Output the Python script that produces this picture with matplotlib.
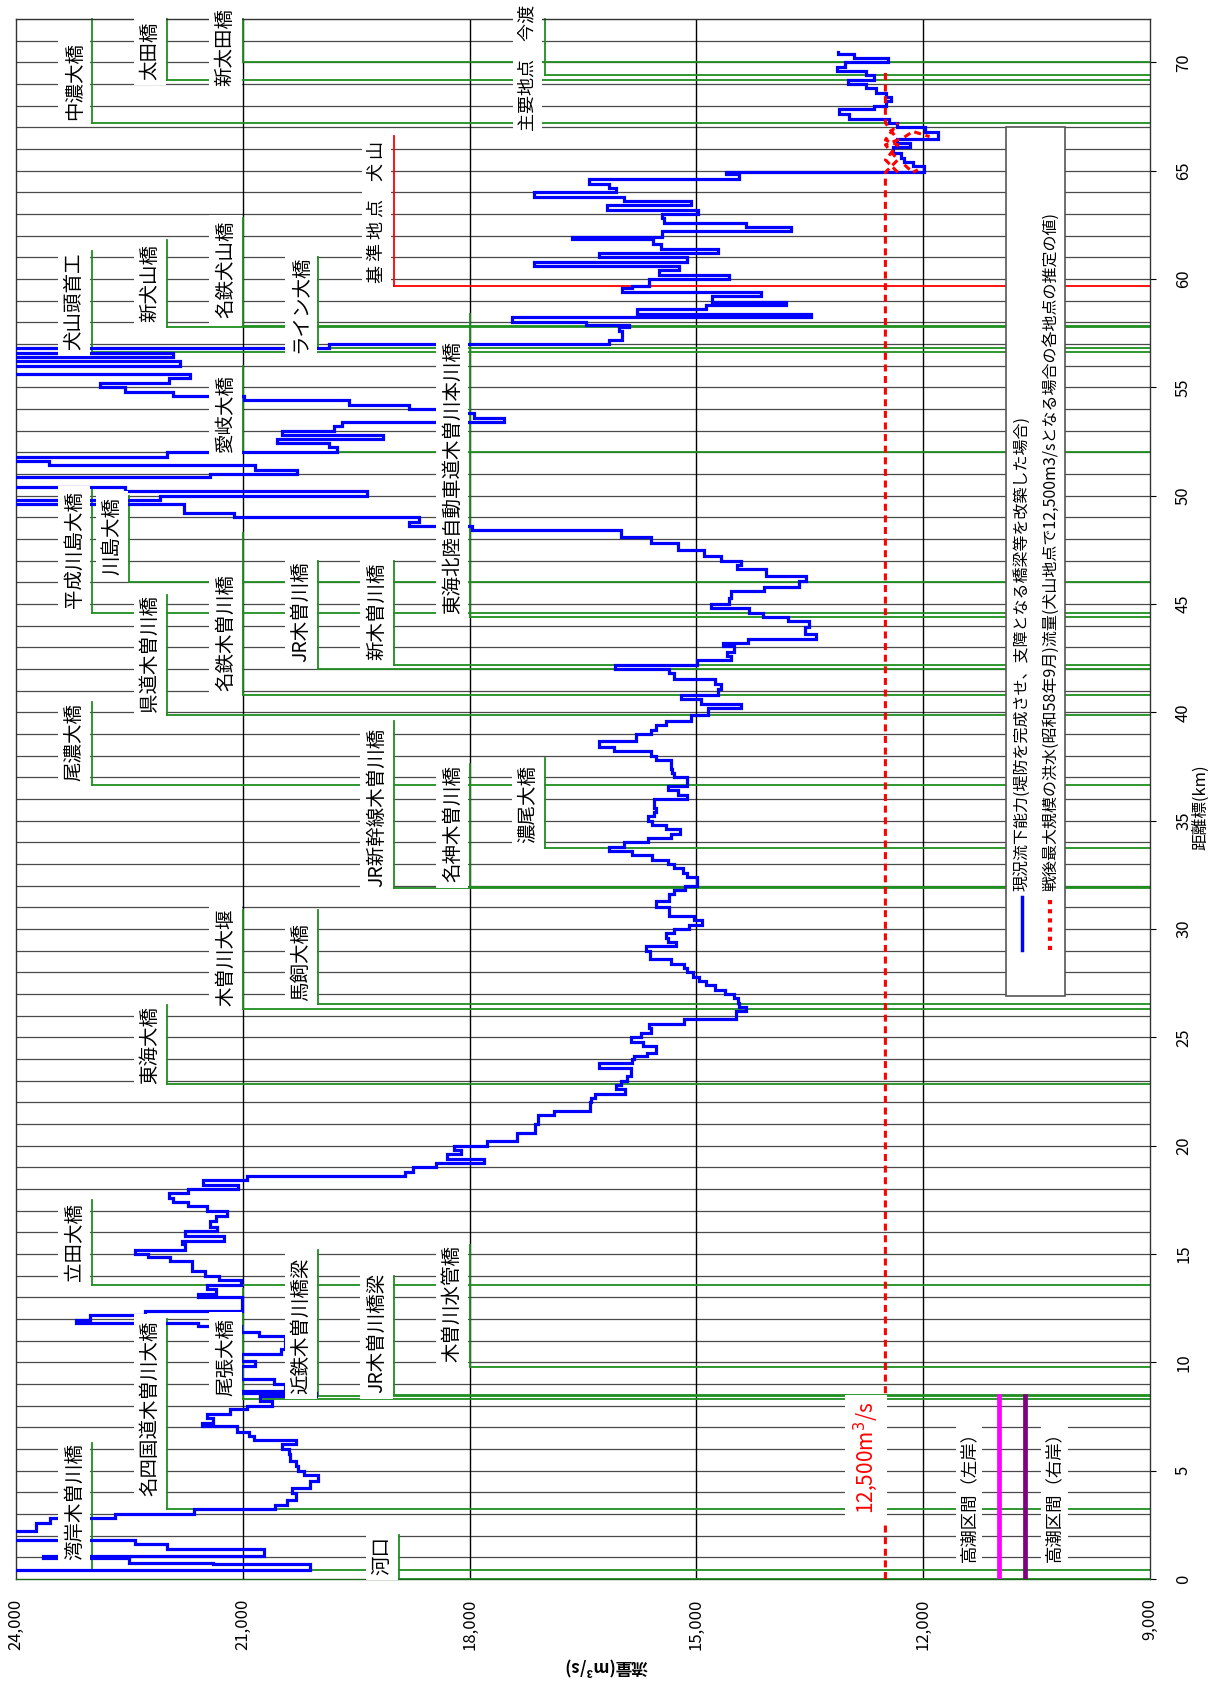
import matplotlib
matplotlib.use('Agg')
import matplotlib.pyplot as plt
from matplotlib.patches import Rectangle

plt.rcParams['font.family'] = ['Noto Sans CJK JP', 'DejaVu Sans']

OFF = 25500  # beyond the 24,000 edge of the chart

# 現況流下能力: section start (km) and capacity (m3/s)
blue_km = [
    0.0, 0.4, 0.68, 0.75, 0.95, 1.05, 1.37, 1.6, 1.8, 2.22,
    2.6, 2.8, 2.99, 3.22, 3.42, 3.63, 3.96, 4.22, 4.53, 4.79,
    4.99, 5.2, 5.45, 5.76, 5.99, 6.22, 6.41, 6.6, 6.8, 7.04,
    7.2, 7.43, 7.6, 7.84, 7.99, 8.2, 8.44, 8.6, 8.69, 9.0,
    9.22, 9.85, 10.07, 10.38, 10.61, 11.23, 11.42, 11.67, 11.8, 11.95,
    12.2, 12.38, 13.0, 13.16, 13.4, 13.58, 13.8, 14.0, 14.23, 14.69,
    14.85, 15.0, 15.19, 15.46, 15.62, 15.85, 16.07, 16.23, 16.53, 16.77,
    17.0, 17.23, 17.38, 17.6, 17.8, 18.0, 18.2, 18.4, 18.6, 18.8,
    19.0, 19.2, 19.4, 19.6, 19.8, 20.0, 20.2, 20.6, 21.0, 21.4,
    21.6, 22.0, 22.2, 22.4, 22.6, 22.8, 23.0, 23.2, 23.6, 23.8,
    24.0, 24.15, 24.3, 24.6, 24.8, 25.0, 25.2, 25.45, 25.6, 25.85,
    26.2, 26.4, 26.6, 26.8, 27.0, 27.2, 27.4, 27.6, 27.8, 28.0,
    28.2, 28.4, 28.6, 29.0, 29.2, 29.4, 29.6, 29.8, 30.0, 30.2,
    30.4, 30.6, 31.0, 31.3, 31.6, 31.8, 32.0, 32.4, 32.6, 32.8,
    33.0, 33.2, 33.4, 33.6, 33.8, 34.0, 34.2, 34.4, 34.6, 34.8,
    35.0, 35.2, 35.4, 35.6, 36.0, 36.2, 36.4, 36.6, 37.0, 37.2,
    37.4, 37.8, 38.0, 38.2, 38.4, 38.7, 39.0, 39.2, 39.4, 39.6,
    39.9, 40.2, 40.4, 40.6, 40.8, 41.1, 41.3, 41.55, 41.8, 42.0,
    42.2, 42.4, 42.6, 42.8, 43.05, 43.2, 43.4, 43.6, 43.95, 44.2,
    44.4, 44.6, 44.8, 45.0, 45.3, 45.6, 45.8, 46.05, 46.3, 46.6,
    46.8, 47.0, 47.2, 47.5, 47.8, 48.1, 48.4, 48.6, 48.8, 49.0,
    49.2, 49.6, 49.8, 50.0, 50.2, 50.4, 50.87, 51.0, 51.2, 51.4,
    51.6, 51.8, 52.0, 52.25, 52.45, 52.6, 52.8, 53.0, 53.2, 53.4,
    53.6, 53.8, 54.0, 54.2, 54.4, 54.6, 54.8, 55.0, 55.2, 55.45,
    55.6, 56.0, 56.2, 56.4, 56.6, 56.8, 57.0, 57.2, 57.6, 57.8,
    57.9, 58.0, 58.25, 58.4, 58.6, 58.8, 58.95, 59.2, 59.4, 59.6,
    59.7, 60.0, 60.2, 60.4, 60.6, 60.8, 61.0, 61.2, 61.4, 61.6,
    61.85, 61.95, 62.2, 62.4, 62.6, 62.8, 63.0, 63.2, 63.4, 63.6,
    63.8, 64.0, 64.2, 64.4, 64.6, 64.85, 64.95, 65.2, 65.4, 65.6,
    65.8, 66.1, 66.3, 66.45, 66.8, 67.0, 67.2, 67.4, 67.6, 67.85,
    68.0, 68.2, 68.4, 68.6, 68.8, 69.0, 69.2, 69.4, 69.6, 69.8,
    70.0, 70.2, 70.4,
]
blue_end = 70.5
blue_flow = [
    OFF, 20110, 21390, 22510, 23640, 20720, 22000, 22420, OFF, 23730,
    23550, 22690, 21650, 20570, 20420, 20300, 20350, 20110, 20000, 20190,
    20270, 20290, 20370, 20390, 20480, 20300, 20850, 20920, 21080, 21540,
    21390, 21480, 21170, 20950, 20610, 20770, 20030, 21030, 20440, 20590,
    21030, 20840, 21030, 20500, 20440, 20790, 21030, 21590, 23200, 23020,
    22290, 21010, 21590, 21360, 21470, 21030, 21320, 21500, 21670, 21960,
    22250, 22420, 21760, 21810, 21250, 21760, 21340, 21430, 21360, 21210,
    21480, 21720, 21920, 21980, 21720, 21060, 21520, 20940, 18850, 18750,
    18450, 17810, 18300, 18110, 18210, 17770, 17370, 17130, 17100, 16880,
    16410, 16390, 16340, 15950, 16070, 16000, 15920, 15860, 16290, 15850,
    15820, 15650, 15530, 15700, 15870, 15730, 15600, 15630, 15160, 14480,
    14350, 14430, 14450, 14500, 14620, 14750, 14870, 14970, 15040, 15120,
    15160, 15340, 15620, 15670, 15270, 15380, 15400, 15290, 15100, 14920,
    15030, 15360, 15540, 15360, 15290, 15150, 14990, 15130, 15180, 15290,
    15380, 15590, 15850, 16150, 15960, 15640, 15340, 15220, 15400, 15590,
    15640, 15560, 15540, 15560, 15120, 15250, 15370, 15120, 15290, 15320,
    15340, 15540, 15600, 16090, 16290, 15800, 15600, 15540, 15400, 15070,
    14850, 14410, 14940, 15210, 14720, 14680, 14750, 15290, 15360, 16080,
    14990, 14540, 14590, 14500, 14650, 14320, 13420, 13570, 13510, 13790,
    14120, 14300, 14810, 14570, 14540, 14100, 13640, 13550, 14080, 14460,
    14410, 14680, 14900, 15250, 15600, 16000, 17970, 18800, 18670, 21120,
    21780, OFF, 22090, 19360, 22560, OFF, 21430, 20280, 20840, 23570,
    OFF, 22000, 19750, 19860, 20550, 19140, 20480, 19800, 19690, 17550,
    17940, 18300, 18800, 19600, 20990, 21920, 22560, 22890, 21980, 21700,
    OFF, 21830, OFF, 21920, OFF, 19860, 16150, 15980, 16020, 15890,
    16460, 17440, 13490, 15780, 14870, 13820, 14790, 14150, 15980, 15850,
    15630, 14570, 15490, 15230, 17150, 15120, 16290, 14720, 15470, 15580,
    16640, 15450, 13750, 14340, 15430, 15450, 14980, 16180, 15070, 15960,
    17150, 16070, 16150, 16420, 14430, 14610, 11990, 12140, 12250, 12290,
    12400, 12180, 12340, 11810, 11980, 12340, 12450, 12980, 13110, 12650,
    12490, 12420, 12490, 12620, 12760, 13000, 12650, 12760, 13140, 13040,
    12460, 12920, 13130,
]
assert len(blue_km) == len(blue_flow)

# 戦後最大規模の洪水流量 (main dashed line and the crossing pieces near 犬山)
red_km = [0.0, 64.92, 65.5, 66.19, 66.42, 67.2, 69.7]
red_flow = [12500, 12500, 12336, 12500, 12336, 12500, 12500]
red2_km = [64.92, 65.5, 66.19, 66.42, 67.2]
red2_flow = [12336, 12500, 12336, 12500, 12336]
red3_km = [66.55, 66.81, 66.57]
red3_flow = [12248, 12137, 11916]
red4_km = [65.27, 64.92, 65.04]
red4_flow = [12248, 12137, 12071]

# bridges / landmarks
bridge_names = ['河口', '湾岸木曽川橋', '名四国道木曽川大橋', '尾張大橋', '近鉄木曽川橋梁',
                'JR木曽川橋梁', '木曽川水管橋', '立田大橋', '東海大橋', '木曽川大堰',
                '馬飼大橋', 'JR新幹線木曽川橋', '名神木曽川橋', '濃尾大橋', '尾濃大橋',
                '県道木曽川橋', '名鉄木曽川橋', 'JR木曽川橋', '新木曽川橋', '平成川島大橋',
                '東海北陸自動車道木曽川本川橋', '川島大橋', '愛岐大橋', '犬山頭首工', 'ライン大橋',
                '新犬山橋', '名鉄犬山橋', '中濃大橋', '太田橋', '主要地点　今渡', '新太田橋']
bridge_km = [0.0, 0.4, 3.25, 8.3, 8.45, 8.5, 9.8, 13.58, 22.85, 26.33,
             26.56, 31.9, 31.95, 33.75, 36.63, 39.86, 40.8, 41.98, 42.17, 44.6,
             44.4, 46.0, 52.0, 56.65, 56.8, 57.8, 57.85, 67.2, 69.2, 69.4, 70.0]
# layout of the leader lines and labels
bracket_flow = [18930, 23000, 22000, 21000, 20000, 19000, 18000, 23000, 22000, 21000,
                20000, 19000, 18000, 17000, 23000, 22000, 21000, 20000, 19000, 23000,
                18000, 22500, 21000, 23000, 20000, 22000, 21000, 23000, 22000, 17000, 21000]
bracket_top = [2.03, 6.3, 12.0, 13.4, 15.2, 14.0, 15.4, 17.5, 26.5, 30.9,
               30.9, 39.6, 37.6, 37.9, 40.5, 45.4, 48.3, 47.0, 47.0, 50.4,
               58.4, 50.0, 56.0, 61.3, 61.0, 61.8, 62.8, 72, 72, 72, 72]
label_km = [1.1, 3.6, 7.9, 10.25, 11.7, 11.35, 12.7, 15.55, 24.65, 28.7,
            28.5, 35.6, 34.85, 35.75, 38.65, 42.7, 43.7, 44.65, 44.65, 47.5,
            50.85, 48.15, 53.8, 58.95, 58.85, 59.8, 60.45, 69.15, 70.55, 69.75, 70.7]
label_size = [14] * 29 + [13, 14]

ref_name, ref_km, ref_flow, ref_top, ref_label_km = '基 準 地 点　犬 山', 59.7, 19000, 66.6, 63.1

flow_ticks = [24000, 21000, 18000, 15000, 12000, 9000]
km_ticks = list(range(0, 71, 5))

GREEN = '#1f8f1f'

fig = plt.figure(figsize=(12.24, 16.97), dpi=100)
ax = fig.add_axes([16 / 1224, 118 / 1697, 1134 / 1224, 1560 / 1697])
ax.set_xlim(24000, 9000)
ax.set_ylim(0, 72)

# grid
for k in range(1, 72):
    ax.axhline(k, color='#4a4a4a', lw=0.9, zorder=1)
for f in flow_ticks[1:-1]:
    ax.axvline(f, color='black', lw=1.0, zorder=1)
ax.axhline(72, color=GREEN, lw=1.5, zorder=2)

# leader lines + labels
for name, km, bf, top, lk, fs in zip(bridge_names, bridge_km, bracket_flow, bracket_top,
                                     label_km, label_size):
    ax.plot([bf, 9000], [km, km], color=GREEN, lw=1.3, zorder=2)
    ax.plot([bf, bf], [km, top], color=GREEN, lw=1.3, zorder=2, clip_on=False)
    ax.text(bf + 230, lk, name, rotation=90, ha='center', va='center', fontsize=fs,
            bbox=dict(fc='white', ec='none', pad=4), zorder=6)

ax.plot([ref_flow, 9000], [ref_km, ref_km], color='red', lw=1.3, zorder=2)
ax.plot([ref_flow, ref_flow], [ref_km, ref_top], color='red', lw=1.3, zorder=2)
ax.text(ref_flow + 230, ref_label_km, ref_name, rotation=90, ha='center', va='center',
        fontsize=13, bbox=dict(fc='white', ec='none', pad=4), zorder=6)

# step line of the capacity
xs, ys = [], []
ends = blue_km[1:] + [blue_end]
for k0, k1, f in zip(blue_km, ends, blue_flow):
    xs += [f, f]
    ys += [k0, k1]
ax.plot(xs, ys, color='#0000ff', lw=2.3, zorder=4, solid_joinstyle='miter')

for rk, rf in [(red_km, red_flow), (red2_km, red2_flow), (red3_km, red3_flow), (red4_km, red4_flow)]:
    ax.plot(rf, rk, color='red', lw=2.2, dashes=(2.3, 1.5), zorder=4)

# 高潮区間
ax.plot([11000, 11000], [0, 8.45], color='#ff00ff', lw=3.4, zorder=3)
ax.plot([10650, 10650], [0, 8.45], color='#800080', lw=3.4, zorder=3)
ax.text(11390, 4.0, '高潮区間（左岸）', rotation=90, ha='center', va='center', fontsize=12.5,
        bbox=dict(fc='white', ec='none', pad=3), zorder=6)
ax.text(10265, 4.0, '高潮区間（右岸）', rotation=90, ha='center', va='center', fontsize=12.5,
        bbox=dict(fc='white', ec='none', pad=3), zorder=6)
ax.text(12760, 5.6, '12,500m$^3$/s', rotation=90, ha='center', va='center', fontsize=15,
        color='red', bbox=dict(fc='white', ec='none', pad=5), zorder=6)

# legend
ax.add_patch(Rectangle((0.873, 0.374), 0.052, 0.557, transform=ax.transAxes,
                       fc='white', ec='#555555', lw=1.2, zorder=7))
ax.plot([0.887, 0.887], [0.403, 0.4375], transform=ax.transAxes, color='#0000ff', lw=2.5, zorder=8)
ax.plot([0.912, 0.912], [0.403, 0.4375], transform=ax.transAxes, color='red', lw=3,
        dashes=(1, 1.2), zorder=8)
ax.text(0.887, 0.441, '現況流下能力(堤防を完成させ、支障となる橋梁等を改築した場合)',
        transform=ax.transAxes, rotation=90, ha='center', va='bottom', fontsize=11.5, zorder=8)
ax.text(0.912, 0.441, '戦後最大規模の洪水(昭和58年9月)流量(犬山地点で12,500m3/sとなる場合の各地点の推定の値)',
        transform=ax.transAxes, rotation=90, ha='center', va='bottom', fontsize=11.5, zorder=8)

# axes
ax.set_xticks(flow_ticks)
ax.set_xticklabels([f'{v:,}' for v in flow_ticks], rotation=90)
ax.yaxis.tick_right()
ax.set_yticks(km_ticks)
ax.set_yticklabels([str(v) for v in km_ticks], rotation=90, va='center')
ax.tick_params(axis='x', length=0, pad=14, labelsize=12)
ax.tick_params(axis='y', length=4, pad=14, labelsize=12)
for s in ax.spines.values():
    s.set_color('#333333')
    s.set_linewidth(1.0)
ax.spines['bottom'].set_color('#1a6a1a')

fig.text(606 / 1224, 1 - 1667 / 1697, '流量(m³/s)', rotation=180, ha='center', va='center',
         fontsize=12, fontweight='bold')
fig.text(1201 / 1224, 1 - 807 / 1697, '距離標(km)', rotation=90, ha='center', va='center',
         fontsize=12)

fig.savefig('out.png', dpi=100)
